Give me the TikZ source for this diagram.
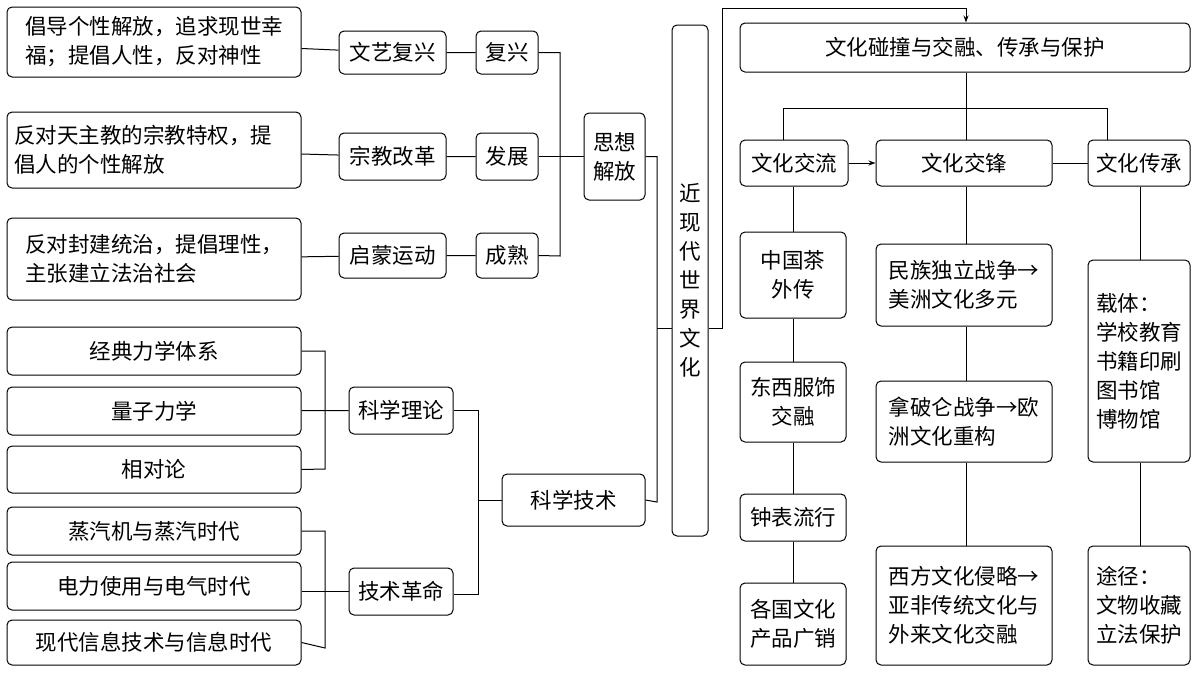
\documentclass[tikz,border=0pt]{standalone}
\usepackage{fontspec}
\setmainfont{Noto Sans CJK SC}
\usetikzlibrary{arrows.meta}
\newcommand{\bx}[7][center]{%
 \node[box,align=#1,minimum width={(#5-#3)*1pt},minimum height={(#6-#4)*1pt}] (#2) at ({(#3+#5)/2},{(#4+#6)/2}) {#7};}
\begin{document}
\begin{tikzpicture}[x=1pt,y=-1pt,
 box/.style={draw,rounded corners=5pt,line width=1pt,inner sep=2pt,font=\fontsize{21.5}{29}\selectfont},
 ln/.style={line width=1pt},
 ar/.style={line width=1pt,-{Stealth[length=7pt,width=5pt]}}]
\useasboundingbox (0,0) rectangle (1200,675);
\bx[left]{a1}{7}{7}{301}{77}{倡导个性解放，追求现世幸\\福；提倡人性，反对神性}
\bx[left]{a2}{7}{112}{301}{188}{反对天主教的宗教特权，提\\倡人的个性解放\hphantom{宗教特权，提}}
\bx[left]{a3}{7}{218}{301}{300}{反对封建统治，提倡理性，\\主张建立法治社会\hphantom{提倡理性}}
\bx{b1}{339}{31}{446}{74}{文艺复兴}
\bx{b2}{339}{133}{446}{180}{宗教改革}
\bx{b3}{339}{233}{446}{278}{启蒙运动}
\bx{c1}{476}{31}{538}{74}{复兴}
\bx{c2}{476}{133}{538}{180}{发展}
\bx{c3}{476}{233}{538}{278}{成熟}
\bx{sx}{584}{113}{645}{200}{思想\\解放}
\bx{jx}{672}{25}{708}{536}{近\\现\\代\\世\\界\\文\\化}
\bx{s1}{7}{327}{301}{375}{经典力学体系}
\bx{s2}{7}{387}{301}{435}{量子力学}
\bx{s3}{7}{446}{301}{493}{相对论}
\bx{s4}{7}{507}{301}{555}{蒸汽机与蒸汽时代}
\bx{s5}{7}{562}{301}{610}{电力使用与电气时代}
\bx{s6}{7}{620}{301}{665}{现代信息技术与信息时代}
\bx{kl}{349}{387}{453}{434}{科学理论}
\bx{jg}{349}{568}{453}{615}{技术革命}
\bx{kj}{502}{474}{645}{526}{科学技术}
\bx{top}{740}{23}{1190}{72}{文化碰撞与交融、传承与保护}
\bx{wl}{740}{140}{848}{186}{文化交流}
\bx{wf}{876}{140}{1052}{186}{文化交锋}
\bx{wc}{1088}{140}{1190}{186}{文化传承}
\bx{d1}{740}{232}{846}{318}{中国茶\\外传}
\bx{d2}{740}{362}{846}{442}{东西服饰\\交融}
\bx{d3}{740}{494}{846}{541}{钟表流行}
\bx{d4}{740}{583}{846}{665}{各国文化\\产品广销}
\bx[left]{e1}{876}{244}{1052}{326}{民族独立战争→\\美洲文化多元}
\bx[left]{e2}{876}{381}{1052}{462}{拿破仑战争→欧\\洲文化重构}
\bx[left]{e3}{876}{546}{1052}{665}{西方文化侵略→\\亚非传统文化与\\外来文化交融}
\bx[left]{f1}{1088}{260}{1190}{462}{载体：\\学校教育\\书籍印刷\\图书馆\\博物馆}
\bx[left]{f2}{1088}{546}{1190}{665}{途径：\\文物收藏\\立法保护}
% left connectors
\draw[ln] (a1) -- (b1) -- (c1); \draw[ln] (a2) -- (b2) -- (c2); \draw[ln] (a3) -- (b3) -- (c3);
\draw[ln] (c1.east) -| (560,256) -- (c3.east);
\draw[ln] (c2) -- (sx);
\draw[ln] (sx.east) -| (657,502) -- (kj.east);
\draw[ln] (657,328) -- (jx.west|-0,328);
\draw[ln] (s1.east) -| (325,469) -- (s3.east); \draw[ln] (s2) -- (kl);
\draw[ln] (s4.east) -| (325,648) -- (s6.east); \draw[ln] (s5.east|-0,591) -- (jg.west|-0,591);
\draw[ln] (kl.east) -| (478,594) -- (jg.east|-0,594);
\draw[ln] (478,500) -- (kj.west|-0,500);
% right
\draw[ar] (jx.east|-0,328) -- (722,328) -- (722,8) -- (966,8) -- (top.north-|966,0);
\draw[ln] (top.south-|966,0) -- (wf.north-|966,0);
\draw[ln] (wl.north-|783,0) -- (783,108) -- (1107,108) -- (wc.north-|1107,0);
\draw[ar] (wl) -- (wf); \draw[ln] (wf) -- (wc);
\draw[ln] (wl.south-|793,0) -- (d1.north-|793,0) (d1.south-|793,0) -- (d2.north-|793,0) (d2.south-|793,0) -- (d3.north-|793,0) (d3.south-|793,0) -- (d4.north-|793,0);
\draw[ln] (wf.south-|966,0) -- (e1.north-|966,0) (e1.south-|966,0) -- (e2.north-|966,0) (e2.south-|966,0) -- (e3.north-|966,0);
\draw[ln] (wc.south-|1140,0) -- (f1.north-|1140,0) (f1.south-|1140,0) -- (f2.north-|1140,0);
\end{tikzpicture}
\end{document}
